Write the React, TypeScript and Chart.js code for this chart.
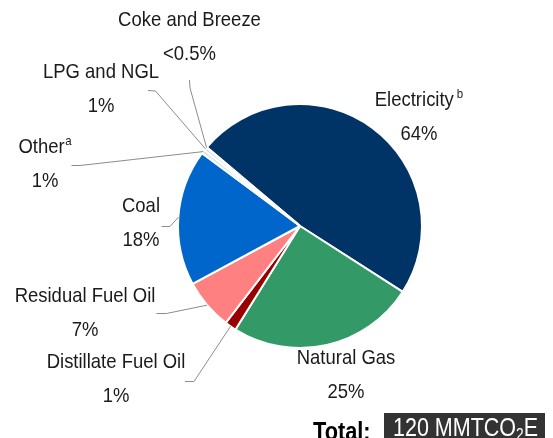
import React, { useEffect, useRef } from 'react';
import { Chart, registerables } from 'chart.js';

Chart.register(...registerables);

// ---- data ----
const categories = ['Electricity', 'Natural Gas', 'Distillate Fuel Oil', 'Residual Fuel Oil', 'Coal', 'Other', 'LPG and NGL', 'Coke and Breeze'];
const shares = [47.9, 24.8, 1.55, 6.7, 18.05, 0.55, 0.35, 0.1];
const percentLabels = ['64%', '25%', '1%', '7%', '18%', '1%', '1%', '<0.5%'];
const footnotes = ['b', '', '', '', '', 'a', '', ''];
const totalLabel = 'Total:';
const totalValue = ['120 MMTCO', '2', 'E'];

// ---- styles / layout ----
const sliceColors = ['#003366', '#339966', '#990000', '#FF8080', '#0066CC', '#DCE6F2', '#BFBFBF', '#FFCC00'];
const FONT = '"Liberation Sans", Arial, sans-serif';
const SX = 0.88; // horizontal condensing (Arial Narrow look)
const labelLayout: { x: number; y: number; elbow: number[][] | null }[] = [
  { x: 419, y: 100, elbow: null },
  { x: 346, y: 358, elbow: null },
  { x: 116, y: 362, elbow: [[185, 381.5], [194, 381.5]] },
  { x: 85, y: 296, elbow: [[156.5, 313.5], [166.5, 313.5]] },
  { x: 141, y: 206, elbow: [[161.5, 226.5], [170, 226.5]] },
  { x: 45, y: 147, elbow: [[71.5, 165.5], [80, 165.5]] },
  { x: 101, y: 72, elbow: [[148, 90.5], [155.5, 91]] },
  { x: 189.5, y: 20, elbow: [[189.5, 80], [190, 88]] },
];

function drawScaled(ctx: CanvasRenderingContext2D, text: string, x: number, y: number, sx: number) {
  ctx.save();
  ctx.translate(x, y);
  ctx.scale(sx, 1);
  ctx.fillText(text, 0, 0);
  ctx.restore();
}

const labelPlugin = {
  id: 'pieLabels',
  afterDraw(chart: any) {
    const ctx = chart.ctx as CanvasRenderingContext2D;
    const meta = chart.getDatasetMeta(0);
    ctx.save();
    // leader lines
    ctx.strokeStyle = '#8c8c8c';
    ctx.lineWidth = 1;
    meta.data.forEach((arc: any, i: number) => {
      const lay = labelLayout[i];
      if (!lay.elbow) return;
      const p = arc.getProps(['x', 'y', 'startAngle', 'endAngle', 'outerRadius'], true);
      const mid = (p.startAngle + p.endAngle) / 2;
      const ex = p.x + Math.cos(mid) * p.outerRadius;
      const ey = p.y + Math.sin(mid) * p.outerRadius;
      ctx.beginPath();
      ctx.moveTo(lay.elbow[0][0], lay.elbow[0][1]);
      ctx.lineTo(lay.elbow[1][0], lay.elbow[1][1]);
      ctx.lineTo(ex, ey);
      ctx.stroke();
    });
    // labels
    ctx.fillStyle = '#1a1a1a';
    ctx.textBaseline = 'middle';
    ctx.textAlign = 'left';
    categories.forEach((name, i) => {
      const lay = labelLayout[i];
      ctx.font = `21px ${FONT}`;
      const w = ctx.measureText(name).width * SX;
      const sup = footnotes[i];
      let sw = 0;
      let gap = 0;
      if (sup) {
        ctx.font = `13px ${FONT}`;
        sw = ctx.measureText(sup).width * SX;
        gap = sup === 'b' ? 3 : 0.5;
      }
      const total = w + gap + sw;
      const left = lay.x - total / 2;
      ctx.font = `21px ${FONT}`;
      drawScaled(ctx, name, left, lay.y, SX);
      if (sup) {
        ctx.font = `13px ${FONT}`;
        drawScaled(ctx, sup, left + w + gap, lay.y - 6, SX);
      }
      ctx.font = `21px ${FONT}`;
      const pw = ctx.measureText(percentLabels[i]).width * SX;
      drawScaled(ctx, percentLabels[i], lay.x - pw / 2, lay.y + 34, SX);
    });
    // total
    ctx.textBaseline = 'alphabetic';
    ctx.fillStyle = '#000000';
    ctx.font = `bold 25px ${FONT}`;
    drawScaled(ctx, totalLabel, 313, 440, 0.87);
    ctx.fillStyle = '#333333';
    ctx.fillRect(384, 413, 161, 25);
    ctx.fillStyle = '#ffffff';
    const TS = 0.86;
    ctx.font = `25px ${FONT}`;
    let x = 393;
    drawScaled(ctx, totalValue[0], x, 436, TS);
    x += ctx.measureText(totalValue[0]).width * TS;
    ctx.font = `16px ${FONT}`;
    drawScaled(ctx, totalValue[1], x, 440, TS);
    x += ctx.measureText(totalValue[1]).width * TS;
    ctx.font = `25px ${FONT}`;
    drawScaled(ctx, totalValue[2], x, 436, TS);
    ctx.restore();
  },
};

export default function App() {
  const ref = useRef<HTMLCanvasElement | null>(null);
  useEffect(() => {
    if (!ref.current) return;
    const chart = new Chart(ref.current, {
      type: 'pie',
      data: {
        labels: categories,
        datasets: [
          {
            data: shares,
            backgroundColor: sliceColors,
            borderColor: '#ffffff',
            borderWidth: 2,
          },
        ],
      },
      options: {
        animation: false,
        responsive: false,
        rotation: -49.8,
        radius: 122,
        layout: { padding: { left: 47, right: 0, top: 14, bottom: 0 } },
        plugins: {
          legend: { display: false },
          tooltip: { enabled: false },
        },
      },
      plugins: [labelPlugin],
    });
    return () => chart.destroy();
  }, []);
  return (
    <div style={{ position: 'fixed', left: 0, top: 0, width: 553, height: 438, background: '#fff' }}>
      <canvas ref={ref} width={553} height={438} style={{ width: 553, height: 438, display: 'block' }} />
    </div>
  );
}
